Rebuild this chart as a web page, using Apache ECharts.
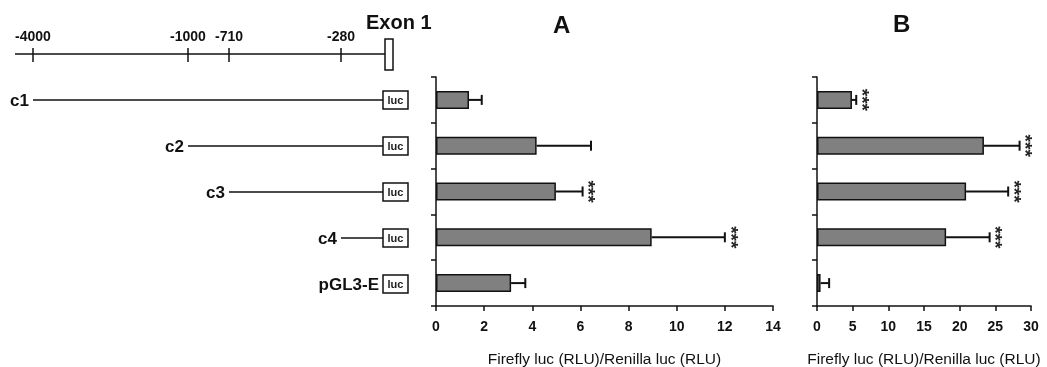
<!DOCTYPE html>
<html>
<head>
<meta charset="utf-8">
<script src="https://cdn.jsdelivr.net/npm/echarts@6/dist/echarts.min.js"></script>
<style>
  html, body { margin: 0; padding: 0; background: #fff; }
  #chart { width: 1047px; height: 367px; }
</style>
</head>
<body>
<div id="chart"></div>
<script>
// constructs (rows)
var constructs = ['c1', 'c2', 'c3', 'c4', 'pGL3-E'];

// promoter map (schematic, not to scale: 0..100 along the drawing)
var promoterLabels = ['-4000', '-1000', '-710', '-280'];
var promoterPos = [5.75, 44.5, 54.75, 82.75];
var constructStart = ['-4000', '-1000', '-710', '-280', null];

// panel A
var meanA = [1.37, 4.18, 4.98, 8.96, 3.12];
var errTopA = [1.9, 6.44, 6.09, 12.0, 3.71];
var starsA = ['', '', '***', '***', ''];
var ticksA = [0, 14, 2];

// panel B
var meanB = [4.9, 23.4, 20.9, 18.1, 0.5];
var errTopB = [5.5, 28.4, 26.8, 24.2, 1.7];
var starsB = ['***', '***', '***', '***', ''];
var ticksB = [0, 30, 5];

var axisTitle = 'Firefly luc (RLU)/Renilla luc (RLU)';
var FONT = "'Liberation Sans', Arial, sans-serif";

var chart = echarts.init(document.getElementById('chart'));

// gene map + constructs
function renderDiagram(params, api) {
  var row = params.dataIndex;
  var X = function (v) { return api.coord([v, row])[0]; };
  var y = api.coord([0, row])[1];
  var kids = [];
  var ls = { stroke: '#111', lineWidth: 1.5 };
  if (row === 0) {
    kids.push({ type: 'line', shape: { x1: X(1.25), y1: y, x2: X(93.75), y2: y }, style: ls });
    promoterPos.forEach(function (p, k) {
      kids.push({ type: 'line', shape: { x1: X(p), y1: y - 6, x2: X(p), y2: y + 8 }, style: ls });
      kids.push({ type: 'text', style: { x: X(p), y: y - 17, text: promoterLabels[k], textAlign: 'center', textVerticalAlign: 'middle', font: 'bold 14px ' + FONT, fill: '#111' } });
    });
    kids.push({ type: 'rect', shape: { x: X(93.75), y: y - 15, width: X(95.75) - X(93.75), height: 31 }, style: { fill: '#fff', stroke: '#111', lineWidth: 1.5 } });
  } else {
    var i = row - 1;
    var lucX = X(93.25);
    var startLbl = constructStart[i];
    var sx = startLbl ? X(promoterPos[promoterLabels.indexOf(startLbl)]) : lucX;
    if (startLbl) {
      kids.push({ type: 'line', shape: { x1: sx, y1: y, x2: lucX, y2: y }, style: ls });
    }
    kids.push({ type: 'text', style: { x: sx - 4, y: y + 1, text: constructs[i], textAlign: 'right', textVerticalAlign: 'middle', font: 'bold 17px ' + FONT, fill: '#111' } });
    kids.push({ type: 'rect', shape: { x: lucX, y: y - 9, width: X(99.5) - lucX, height: 18 }, style: { fill: '#fff', stroke: '#111', lineWidth: 1.5 } });
    kids.push({ type: 'text', style: { x: (lucX + X(99.5)) / 2, y: y + 0.5, text: 'luc', textAlign: 'center', textVerticalAlign: 'middle', font: 'bold 11px ' + FONT, fill: '#222' } });
  }
  return { type: 'group', children: kids };
}

function errRenderer(stars) {
  return function (params, api) {
    var i = params.dataIndex;
    var p0 = api.coord([api.value(1), i]);
    var p1 = api.coord([api.value(2), i]);
    var ls = { stroke: '#111', lineWidth: 2 };
    var kids = [
      { type: 'line', shape: { x1: p0[0], y1: p0[1], x2: p1[0], y2: p1[1] }, style: ls },
      { type: 'line', shape: { x1: p1[0], y1: p1[1] - 5, x2: p1[0], y2: p1[1] + 5 }, style: ls }
    ];
    if (stars[i]) {
      kids.push({ type: 'text', x: p1[0] + 5, y: p1[1], rotation: -Math.PI / 2,
        style: { x: 0, y: 0, text: stars[i], textAlign: 'center', textVerticalAlign: 'middle', font: 'bold 19px ' + FONT, fill: '#222' } });
    }
    return { type: 'group', children: kids };
  };
}

function valueAxis(grid, t) {
  return {
    type: 'value', gridIndex: grid, min: t[0], max: t[1], interval: t[2],
    name: axisTitle, nameLocation: 'middle', nameGap: 46,
    nameTextStyle: { fontSize: 15.5, color: '#111', fontFamily: FONT },
    axisLine: { show: true, lineStyle: { color: '#111', width: 1.5 } },
    axisTick: { show: true, length: 5, lineStyle: { color: '#111', width: 1.5 } },
    axisLabel: { fontSize: 14, fontWeight: 'bold', color: '#111', margin: 14, fontFamily: FONT },
    splitLine: { show: false }
  };
}

function catAxis(grid) {
  return {
    type: 'category', gridIndex: grid, data: constructs, inverse: true,
    axisLine: { show: true, lineStyle: { color: '#111', width: 1.5 } },
    axisTick: { show: true, length: 5, lineStyle: { color: '#111', width: 1.5 } },
    axisLabel: { show: false }
  };
}

var barStyle = { color: '#808080', borderColor: '#111', borderWidth: 1.5 };

var option = {
  animation: false,
  backgroundColor: '#fff',
  textStyle: { fontFamily: FONT },
  title: [
    { text: 'Exon 1', left: 366, top: 13, padding: 0, textStyle: { fontSize: 20, fontWeight: 'bold', color: '#111', fontFamily: FONT } },
    { text: 'A', left: 553, top: 14, padding: 0, textStyle: { fontSize: 24, fontWeight: 'bold', color: '#111', fontFamily: FONT } },
    { text: 'B', left: 893, top: 13, padding: 0, textStyle: { fontSize: 24, fontWeight: 'bold', color: '#111', fontFamily: FONT } }
  ],
  grid: [
    { left: 10, top: 31, width: 400, height: 276, outerBoundsMode: 'none' },
    { left: 436, top: 77, width: 337, height: 229, outerBoundsMode: 'none' },
    { left: 817, top: 77, width: 214, height: 229, outerBoundsMode: 'none' }
  ],
  xAxis: [
    { type: 'value', gridIndex: 0, min: 0, max: 100, show: false },
    valueAxis(1, ticksA),
    valueAxis(2, ticksB)
  ],
  yAxis: [
    { type: 'category', gridIndex: 0, data: ['map'].concat(constructs), inverse: true, show: false },
    catAxis(1),
    catAxis(2)
  ],
  series: [
    {
      type: 'custom', xAxisIndex: 0, yAxisIndex: 0, clip: false,
      renderItem: renderDiagram,
      data: ['map'].concat(constructs).map(function (c, i) { return [0, i]; }),
      encode: { x: 0, y: 1 }
    },
    { type: 'bar', xAxisIndex: 1, yAxisIndex: 1, data: meanA, barWidth: 18, itemStyle: barStyle },
    {
      type: 'custom', xAxisIndex: 1, yAxisIndex: 1, clip: false, z: 3,
      renderItem: errRenderer(starsA),
      data: constructs.map(function (c, i) { return [i, meanA[i], errTopA[i]]; }),
      encode: { y: 0, x: [1, 2] }
    },
    { type: 'bar', xAxisIndex: 2, yAxisIndex: 2, data: meanB, barWidth: 18, itemStyle: barStyle },
    {
      type: 'custom', xAxisIndex: 2, yAxisIndex: 2, clip: false, z: 3,
      renderItem: errRenderer(starsB),
      data: constructs.map(function (c, i) { return [i, meanB[i], errTopB[i]]; }),
      encode: { y: 0, x: [1, 2] }
    }
  ]
};

chart.setOption(option);
</script>
</body>
</html>
